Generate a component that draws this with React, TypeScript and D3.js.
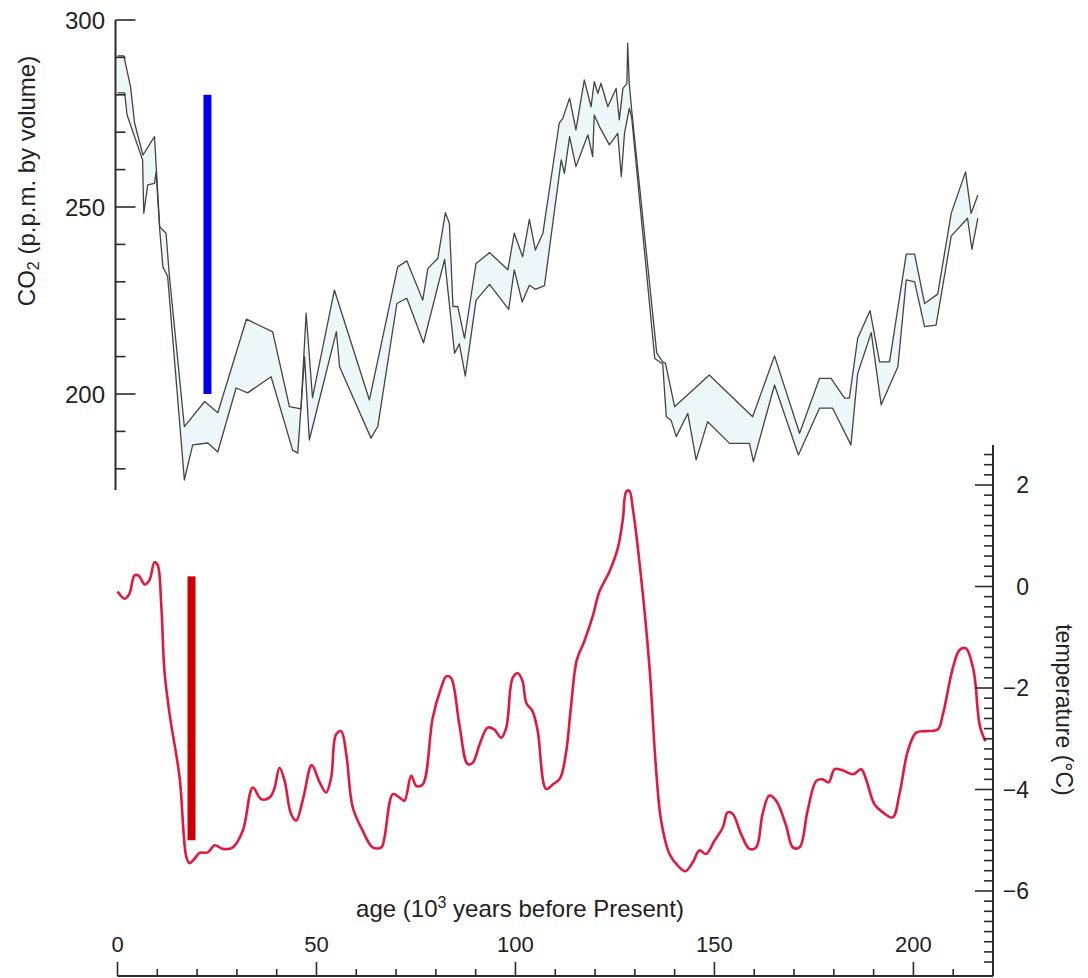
import React from "react";
import * as d3 from "d3";

// Vostok ice core: CO2 envelope (upper / lower bound) and temperature anomaly
// age in 10^3 years before present
const co2Upper: [number, number][] = [
  [0, 290.4], [1.6, 290.4], [3.3, 282], [4.3, 272.4], [6.4, 263.9], [9.3, 268.8],
  [10.6, 244.7], [12.2, 243], [13, 232], [16.8, 191.3], [21.9, 198], [25.2, 195],
  [32.4, 220], [39, 216.6], [43.2, 196.6], [46.1, 196], [47.4, 221.6], [49, 199],
  [54.5, 227.8], [63.3, 198.4], [70.4, 234], [72.7, 235.6], [76.7, 225.1], [78, 233.6],
  [80.5, 236.3], [82.4, 248.5], [83.4, 245.6], [84.3, 223.4], [85.5, 223.4], [87.2, 214.9],
  [90.1, 234.9], [93.5, 237.8], [98.1, 233.2], [99.7, 243], [101.8, 236.7], [103.5, 246.7],
  [105, 238.5], [106.9, 243], [111, 272.4], [111.9, 273.7], [113.6, 279.1], [115.2, 270.6],
  [117.3, 284], [119, 276.8], [119.8, 283.5], [120.7, 280.4], [121.5, 283.1], [123.2, 276.8],
  [125.3, 281.7], [126.1, 273.3], [127, 281.7], [128, 283], [128.2, 293.8], [128.6, 283],
  [129.2, 276], [135.5, 211], [137, 208.6], [137.7, 208.2], [140, 196.6], [148.7, 205.1],
  [159.6, 193.9], [165.1, 210.2], [171.4, 189.5], [176.4, 204.2], [179.3, 204.2],
  [182.7, 198.9], [183.9, 198.9], [186, 214.9], [189.1, 222.3], [191.5, 208.6], [194, 208.6],
  [198.2, 237.4], [200.3, 237.4], [202.8, 224.2], [206.1, 226.7], [209.5, 248.3],
  [213.1, 259.4], [214.5, 248.3], [216.2, 253.2],
];

const co2Lower: [number, number][] = [
  [0, 280.5], [1.8, 280.5], [2.4, 274.6], [6.3, 262.6], [6.6, 248.3], [7.6, 255.9],
  [9.3, 256.3], [9.7, 259.4], [10.6, 244], [11.4, 234], [12.6, 231.4], [16.8, 177],
  [18.9, 186.4], [22.7, 186.9], [25.2, 184.5], [29.8, 201.6], [32.7, 200.3], [38.6, 204.6],
  [44, 185], [45.3, 184.2], [47, 210], [48.2, 187.7], [55, 216.7], [55.8, 207.3],
  [63.7, 188.2], [65.4, 191.3], [70.2, 224.2], [72.7, 225.6], [76.9, 213.7], [82.2, 236],
  [84.7, 210.9], [85.9, 213.4], [87.4, 204.8], [90.1, 225.1], [93.5, 229.3], [98.3, 222.6],
  [99.7, 233.2], [101.7, 224.6], [103.5, 229.1], [105, 228], [107.3, 229], [111.5, 262.6],
  [112.3, 259], [113.6, 268.8], [115.2, 260.8], [118.2, 269.3], [119.4, 263.5],
  [119.8, 274.6], [121.1, 271.5], [123.6, 266.6], [125.7, 269.7], [126.6, 258.1],
  [127.4, 269.7], [128.6, 276.4], [129.2, 274], [135, 209.5], [137, 208], [137.9, 193.9],
  [139.1, 193], [140.4, 188.6], [143.3, 194.8], [145.4, 182.4], [148.3, 192.6],
  [153.8, 186.8], [158.8, 186.8], [159.8, 181.9], [165.1, 202.4], [171.1, 183.7],
  [176.4, 196.2], [179.7, 196.2], [184.3, 186.4], [186, 205.5], [189.4, 216.4],
  [191.9, 197.1], [196.1, 207.3], [198.2, 230.5], [200.3, 230], [202.8, 218],
  [205.7, 218.4], [209.5, 242.2], [213.6, 247], [214.7, 238.7], [216.2, 247],
];

const temperature: [number, number][] = [
  [0, -0.1], [1.8, -0.24], [3, -0.14], [4.3, 0.22], [5.4, 0.21], [6.8, 0.04], [8, 0.12],
  [9.3, 0.48], [10.1, 0.42], [11, -0.37], [11.8, -1.67], [13.1, -2.52], [15.6, -3.76],
  [17.3, -5.33], [18.1, -5.45], [19.3, -5.37], [20.6, -5.25], [22.7, -5.24], [24.4, -5.1],
  [26.5, -5.17], [29, -5.14], [31.5, -4.81], [34, -3.96], [36.1, -4.19], [38.2, -4.16],
  [39.4, -3.99], [40.7, -3.57], [42, -3.83], [43.6, -4.48], [44.9, -4.61], [46.7, -4.16],
  [48.8, -3.52], [50.8, -3.86], [52.4, -4.06], [53.7, -3.76], [54.9, -2.92], [56.2, -2.85],
  [57.5, -3.31], [59.1, -4.35], [61.6, -4.81], [64.1, -5.14], [66.3, -5.14], [67.1, -4.94],
  [69.2, -4.09], [70.9, -4.16], [72.1, -4.22], [73.8, -3.73], [75.1, -3.93], [76.7, -3.9],
  [79.2, -2.59], [81.3, -2.0], [82.6, -1.77], [83.8, -1.8], [85.9, -2.72], [88, -3.5],
  [89.3, -3.47], [91, -3.11], [93, -2.78], [94.7, -2.82], [96.4, -2.98], [97.7, -2.78],
  [99.3, -1.8], [100.6, -1.71], [101.8, -1.87], [102.7, -2.29], [104.3, -2.46],
  [105.6, -2.85], [107.7, -3.99], [109.4, -3.9], [111.2, -3.78], [112.7, -3.28],
  [114, -2.33], [115.4, -1.45], [117.3, -1.08], [119.4, -0.59], [121.1, -0.1],
  [123.6, 0.29], [125.7, 0.75], [127, 1.33], [127.8, 1.86], [128.6, 1.89], [129.5, 1.53],
  [131.6, 0.16], [133.7, -1.61], [135.3, -3.57], [136.6, -4.61], [138.7, -5.27],
  [140.8, -5.5], [142.7, -5.61], [144.6, -5.43], [146.2, -5.2], [147.9, -5.27], [150, -5.01],
  [152.1, -4.75], [153.3, -4.45], [154.6, -4.48], [156.7, -4.88], [158.8, -5.17],
  [160.5, -5.14], [162.1, -4.48], [163.8, -4.12], [165.5, -4.22], [168, -4.71],
  [169.7, -5.14], [171.4, -5.14], [173.4, -4.42], [175.6, -3.83], [177.2, -3.8],
  [178.7, -3.86], [180.2, -3.6], [182.2, -3.62], [184.8, -3.7], [186.9, -3.6], [188.1, -3.8],
  [190.2, -4.29], [192.3, -4.45], [194.8, -4.55], [196.5, -4.09], [198.6, -3.24],
  [200.7, -2.88], [203.2, -2.85], [206.1, -2.82], [207.4, -2.52], [209.9, -1.61],
  [211.6, -1.25], [213.2, -1.22], [215, -1.61], [215.7, -2.0], [216.1, -2.39],
  [216.8, -2.78], [218.1, -3.05],
];

// highlighted ranges: glacial-to-interglacial swing
const co2RangeAge = [22.6];
const co2RangePpm = [200, 280];
const tempRangeAge = [18.6];
const tempRangeC = [0.2, -5.0];

const ageTicks = d3.range(0, 220, 10);
const ageLabels = [0, 50, 100, 150, 200];
const co2Ticks = d3.range(180, 301, 10);
const co2Labels = [200, 250, 300];
const tempTicks = d3.range(-74, 27, 2).map((v) => v / 10);
const tempLabels = [-6, -4, -2, 0, 2];

const FONT = "'Liberation Sans', Arial, sans-serif";
const AXIS = "#2b2b2b";

export default function App() {
  const x = d3.scaleLinear().domain([0, 220]).range([117.5, 993]);
  const yCo2 = d3.scaleLinear().domain([200, 300]).range([394, 20]);
  const yT = d3.scaleLinear().domain([-6, 2]).range([891, 485]);

  const co2Line = d3.line<[number, number]>().x((d) => x(d[0])).y((d) => yCo2(d[1]));
  const envelope = d3
    .line<[number, number]>()
    .x((d) => x(d[0]))
    .y((d) => yCo2(d[1]))
    .curve(d3.curveLinearClosed)([...co2Upper, ...[...co2Lower].reverse()]);
  const tLine = d3
    .line<[number, number]>()
    .x((d) => x(d[0]))
    .y((d) => yT(d[1]))
    .curve(d3.curveCatmullRom.alpha(0.5));

  const co2AxisX = x(0) - 2;
  const tAxisX = x(220);
  const baseY = 976;
  const fmt = d3.format("d");

  return (
    <svg
      width={1088}
      height={978}
      style={{ position: "absolute", left: 0, top: 0, background: "#fff" }}
      fontFamily={FONT}
    >
      {/* CO2 envelope */}
      <path d={envelope ?? ""} fill="#edf6f9" stroke="none" />
      <path d={co2Line(co2Upper) ?? ""} fill="none" stroke="#444" strokeWidth={1.3} strokeLinejoin="round" />
      <path d={co2Line(co2Lower) ?? ""} fill="none" stroke="#444" strokeWidth={1.3} strokeLinejoin="round" />

      {/* CO2 axis */}
      <line x1={co2AxisX} x2={co2AxisX} y1={yCo2(300)} y2={490} stroke={AXIS} strokeWidth={2} />
      {co2Ticks.map((t) => (
        <line
          key={t}
          x1={co2AxisX}
          x2={co2AxisX + (t % 50 === 0 ? 20 : 10)}
          y1={yCo2(t)}
          y2={yCo2(t)}
          stroke={AXIS}
          strokeWidth={1.6}
        />
      ))}
      {co2Labels.map((t) => (
        <text key={t} x={105} y={yCo2(t)} dy="0.36em" textAnchor="end" fontSize={24} fill="#222">
          {fmt(t)}
        </text>
      ))}
      <text transform={`translate(35,${181}) rotate(-90)`} textAnchor="middle" fontSize={24} fill="#222">
        CO<tspan fontSize={16} dy={4}>2</tspan>
        <tspan dy={-4}> (p.p.m. by volume)</tspan>
      </text>

      {/* temperature curve */}
      <path d={tLine(temperature) ?? ""} fill="none" stroke="#e4173f" strokeWidth={2.6} strokeLinejoin="round" />

      {/* temperature axis */}
      <line x1={tAxisX} x2={tAxisX} y1={445} y2={baseY} stroke={AXIS} strokeWidth={2} />
      {tempTicks.map((t) => {
        const major = Math.abs(t % 2) < 1e-6;
        return (
          <line
            key={t}
            x1={tAxisX - (major ? 18 : 9)}
            x2={tAxisX}
            y1={yT(t)}
            y2={yT(t)}
            stroke={AXIS}
            strokeWidth={1.6}
          />
        );
      })}
      {tempLabels.map((t) => (
        <text key={t} x={1029} y={yT(t)} dy="0.36em" textAnchor="end" fontSize={23} fill="#222">
          {d3.format("d")(t)}
        </text>
      ))}
      <text transform={`translate(1056,710) rotate(90)`} textAnchor="middle" fontSize={23} fill="#222">
        temperature (°C)
      </text>

      {/* age axis */}
      <line x1={x(0)} x2={tAxisX} y1={baseY} y2={baseY} stroke={AXIS} strokeWidth={2} />
      {ageTicks.map((t) => (
        <line
          key={t}
          x1={x(t)}
          x2={x(t)}
          y1={baseY}
          y2={baseY - (t % 50 === 0 ? 14 : 7)}
          stroke={AXIS}
          strokeWidth={1.6}
        />
      ))}
      {ageLabels.map((t) => (
        <text key={t} x={x(t)} y={952} textAnchor="middle" fontSize={22} fill="#222">
          {fmt(t)}
        </text>
      ))}
      <text x={520} y={917} textAnchor="middle" fontSize={24} fill="#222">
        age (10<tspan fontSize={16} dy={-9}>3</tspan>
        <tspan dy={9}> years before Present)</tspan>
      </text>

      {/* range bars */}
      {co2RangeAge.map((a) => (
        <rect
          key={`c${a}`}
          x={x(a) - 4}
          width={8}
          y={yCo2(co2RangePpm[1])}
          height={yCo2(co2RangePpm[0]) - yCo2(co2RangePpm[1])}
          fill="#0000f5"
        />
      ))}
      {tempRangeAge.map((a) => (
        <rect
          key={`t${a}`}
          x={x(a) - 4}
          width={8}
          y={yT(tempRangeC[0])}
          height={yT(tempRangeC[1]) - yT(tempRangeC[0])}
          fill="#cc0000"
        />
      ))}
    </svg>
  );
}
